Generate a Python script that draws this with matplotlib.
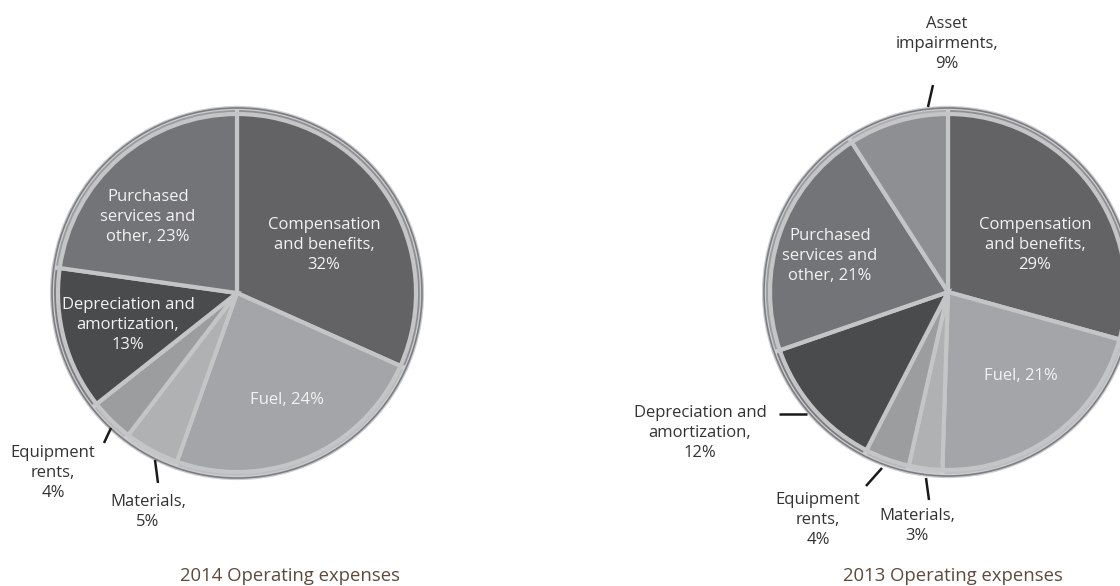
import matplotlib
matplotlib.use("Agg")
import matplotlib.pyplot as plt
from matplotlib.colors import to_rgb

plt.rcParams['font.family'] = ['Open Sans', 'DejaVu Sans']

# data: slices run clockwise from 12 o'clock
labels_2014 = ['Compensation\nand benefits,\n32%', 'Fuel, 24%', 'Materials,\n5%',
               'Equipment\nrents,\n4%', 'Depreciation and\namortization,\n13%',
               'Purchased\nservices and\nother, 23%']
values_2014 = [32, 24, 5, 4, 13, 23]
colors_2014 = ['#636366', '#a4a5a8', '#b0b1b3', '#9c9d9f', '#4a4b4d', '#737477']

labels_2013 = ['Compensation\nand benefits,\n29%', 'Fuel, 21%', 'Materials,\n3%',
               'Equipment\nrents,\n4%', 'Depreciation and\namortization,\n12%',
               'Purchased\nservices and\nother, 21%', 'Asset\nimpairments,\n9%']
values_2013 = [29, 21, 3, 4, 12, 21, 9]
colors_2013 = ['#636366', '#a4a5a8', '#b0b1b3', '#9c9d9f', '#4a4b4d', '#737477', '#8e8f92']

W, H = 1120, 586


def Y(y):
    # pixel row (from top) to axis y
    return H - y


def lighten(c, f):
    r, g, b = to_rgb(c)
    return (r + (1 - r) * f, g + (1 - g) * f, b + (1 - b) * f)


def draw_pie(ax, values, colors, cx, cy, r):
    # lighter outer rim, then the slices themselves
    rim = [lighten(c, 0.28) for c in colors]
    ax.pie(values, colors=rim, startangle=90, counterclock=False,
           center=(cx, Y(cy)), radius=r,
           wedgeprops=dict(edgecolor='#cbcccf', linewidth=3))
    ax.pie(values, colors=colors, startangle=90, counterclock=False,
           center=(cx, Y(cy)), radius=r - 6,
           wedgeprops=dict(edgecolor='#c4c5c7', linewidth=3))
    ax.add_patch(plt.Circle((cx, Y(cy)), r, fill=False, ec='#7d7e81', lw=1.2))


fig = plt.figure(figsize=(W / 100, H / 100), dpi=100)
ax = fig.add_axes([0, 0, 1, 1])

draw_pie(ax, values_2014, colors_2014, 237, 293, 185)
draw_pie(ax, values_2013, colors_2013, 948, 292, 184)

ax.set_xlim(0, W)
ax.set_ylim(0, H)
ax.set_aspect('equal')
ax.axis('off')

inner = dict(color='#f2f2f2', fontsize=12, ha='center', va='center', linespacing=1.32)
outer = dict(color='#333333', fontsize=12, ha='center', va='center', linespacing=1.32)

# 2014 labels
ax.text(324, Y(245), labels_2014[0], **inner)
ax.text(287, Y(400), labels_2014[1], **inner)
ax.text(148, Y(512), labels_2014[2], **outer)
ax.text(53, Y(473), labels_2014[3], **outer)
ax.text(128, Y(325), labels_2014[4], **inner)
ax.text(148, Y(217), labels_2014[5], **inner)

# 2013 labels
ax.text(1035, Y(245), labels_2013[0], **inner)
ax.text(1021, Y(376), labels_2013[1], **inner)
ax.text(917, Y(526), labels_2013[2], **outer)
ax.text(818, Y(520), labels_2013[3], **outer)
ax.text(700, Y(433), labels_2013[4], **outer)
ax.text(830, Y(256), labels_2013[5], **inner)
ax.text(947, Y(44), labels_2013[6], **outer)

# leader lines
leaders = [((158, 483), (155, 460)), ((104, 443), (111, 428)),
           ((929, 500), (926, 478)), ((866, 486), (882, 468)),
           ((779, 414), (807, 414)), ((933, 85), (928, 107))]
for (x0, y0), (x1, y1) in leaders:
    ax.plot([x0, x1], [Y(y0), Y(y1)], color='#1a1a1a', lw=1.8, solid_capstyle='butt')

title_style = dict(color='#5e4a3c', fontsize=13.3, ha='center', va='center')
ax.text(290, Y(576), '2014 Operating expenses', **title_style)
ax.text(953, Y(576), '2013 Operating expenses', **title_style)

fig.savefig('out.png', dpi=100)
